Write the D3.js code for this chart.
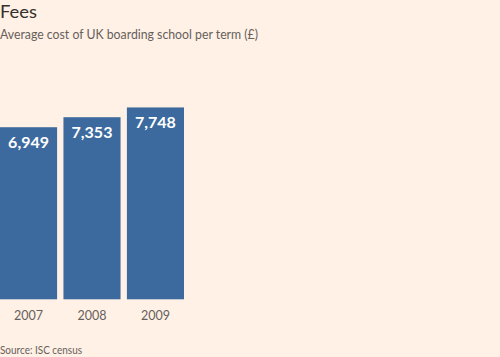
<!DOCTYPE html>
<html><head><meta charset="utf-8">
<script src="https://cdn.jsdelivr.net/npm/d3@7"></script>
<style>html,body{margin:0;padding:0;background:#fff1e5;}svg{display:block;}</style>
</head><body>
<script>
const years = ["2007", "2008", "2009"];
const fees = [6949, 7353, 7748];
const titleText = "Fees";
const subtitleText = "Average cost of UK boarding school per term (£)";
const sourceText = "Source: ISC census";

const W = 500, H = 357;
const svg = d3.select("body").append("svg").attr("width", W).attr("height", H);
svg.append("rect").attr("width", W).attr("height", H).attr("fill", "#fff1e5");

const font = "Lato, 'Open Sans', sans-serif";

svg.append("text").attr("x", 0).attr("y", 18).text(titleText)
  .attr("font-family", font).attr("font-size", 18).attr("fill", "#33302e")
  .attr("textLength", 37).attr("lengthAdjust", "spacingAndGlyphs");
svg.append("text").attr("x", 0).attr("y", 39).text(subtitleText)
  .attr("font-family", font).attr("font-size", 13).attr("fill", "#66605c")
  .attr("textLength", 258).attr("lengthAdjust", "spacingAndGlyphs");
svg.append("text").attr("x", 0).attr("y", 354).text(sourceText)
  .attr("font-family", font).attr("font-size", 10.5).attr("fill", "#66605c")
  .attr("textLength", 82).attr("lengthAdjust", "spacingAndGlyphs");

const x = d3.scaleBand().domain(years).range([0, 184]).paddingInner(0.1).paddingOuter(0);
const y = d3.scaleLinear().domain([0, 8000]).range([299.3, 101.2]);

const data = years.map((yr, i) => ({year: yr, value: fees[i]}));

svg.selectAll("rect.bar").data(data).join("rect").attr("class", "bar")
  .attr("x", d => x(d.year)).attr("width", x.bandwidth())
  .attr("y", d => y(d.value)).attr("height", d => y(0) - y(d.value))
  .attr("fill", "#3c6a9e");

svg.selectAll("text.val").data(data).join("text").attr("class", "val")
  .attr("x", d => x(d.year) + x.bandwidth() / 2)
  .attr("y", d => y(d.value) + 21)
  .attr("text-anchor", "middle")
  .attr("font-family", font).attr("font-weight", "bold").attr("font-size", 16)
  .attr("fill", "#ffffff").text(d => d3.format(",")(d.value));

const xAxis = d3.axisBottom(x).tickSize(0).tickPadding(0);
const gx = svg.append("g").attr("transform", "translate(0,311)").call(xAxis);
gx.select(".domain").remove();
gx.selectAll("text").attr("font-family", font).attr("font-size", 12.5)
  .attr("fill", "#66605c").attr("dy", "0.71em");
</script>
</body></html>
